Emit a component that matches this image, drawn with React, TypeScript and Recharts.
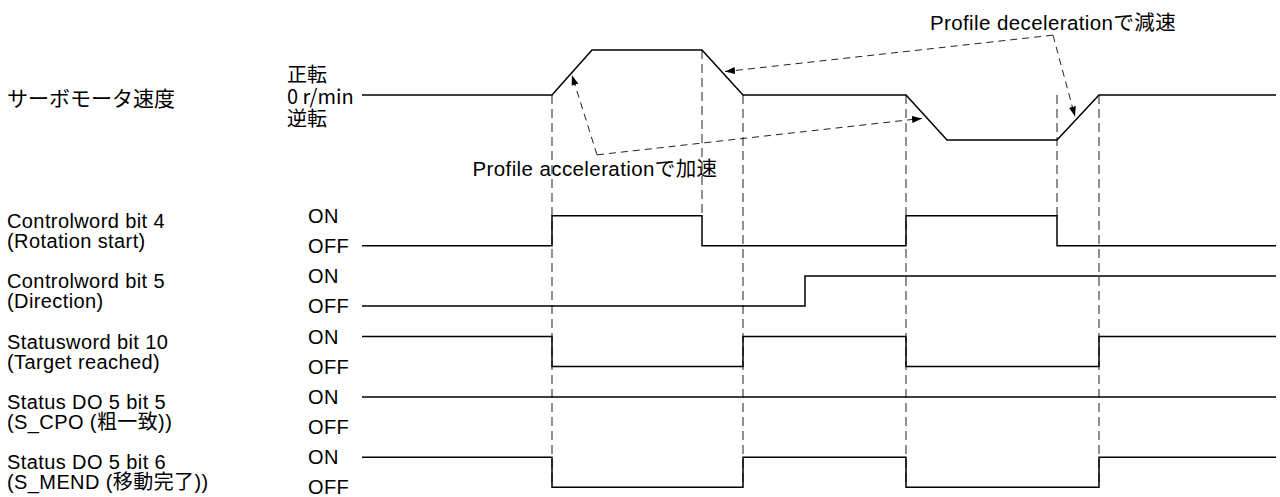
import { ComposedChart, Line, XAxis, YAxis, ReferenceLine } from 'recharts';

// time axis is arbitrary units (0 = left edge of the traces)
const T_END = 91.4;

// servo motor speed (1 = forward max, -1 = reverse max)
const speedT = [0, 19, 23, 34, 38.1, 54.4, 58.5, 69.5, 73.7, T_END];
const speedV = [0, 0, 1, 1, 0, 0, -1, -1, 0, 0];

// digital signals, value switches at each time (step after)
const cw4T = [0, 19, 34, 54.4, 69.5, T_END];
const cw4V = [0, 1, 0, 1, 0, 0];
const cw5T = [0, 44.3, T_END];
const cw5V = [0, 1, 1];
const sw10T = [0, 19, 38.1, 54.4, 73.7, T_END];
const sw10V = [1, 0, 1, 0, 1, 1];
const cpoT = [0, T_END];
const cpoV = [1, 1];
const mendT = [0, 19, 38.1, 54.4, 73.7, T_END];
const mendV = [1, 0, 1, 0, 1, 1];

const signalNames = [
  ['Controlword bit 4', '(Rotation start)'],
  ['Controlword bit 5', '(Direction)'],
  ['Statusword bit 10', '(Target reached)'],
  ['Status DO 5 bit 5', '(S_CPO (粗一致))'],
  ['Status DO 5 bit 6', '(S_MEND (移動完了))'],
];
const speedLabels = ['正転', '0 r/min', '逆転'];

// dashed guide lines: time, speed level at top, lane + level at bottom
const guideT = [19, 34, 38.1, 54.4, 69.5, 73.7];
const guideTopSpeed = [0, 1, 0, 0, 0, 0];
const guideLane = [4, 0, 4, 4, 0, 4];
const guideLevel = [0, 1, 0, 0, 1, 0];

// annotation leaders: [time, speed level]
const accCorner = [23.5, -1.33];
const accTips = [[21.0, 0.44], [56.0, -0.52]];
const decCorner = [69.1, 1.33];
const decTips = [[36.3, 0.52], [71.3, -0.48]];

// layout (y axis runs in pixels, top = 0)
const W = 1280;
const H = 497;
const SPEED_BASE = 95;
const SPEED_AMP = 45;
const LANE_OFF = [245.7, 306.1, 366.6, 427, 487.3];
const LANE_AMP = 30;

const speedY = (v: number) => SPEED_BASE - v * SPEED_AMP;
const laneY = (i: number, v: number) => LANE_OFF[i] - v * LANE_AMP;

const toRows = (ts: number[], vs: number[], f: (v: number) => number) =>
  ts.map((t, i) => ({ t, y: f(vs[i]) }));

const speedData = toRows(speedT, speedV, speedY);
const laneData = [
  [cw4T, cw4V],
  [cw5T, cw5V],
  [sw10T, sw10V],
  [cpoT, cpoV],
  [mendT, mendV],
].map(([ts, vs], i) => toRows(ts, vs, (v) => laneY(i, v)));

const leader = (corner: number[], tip: number[]) => [
  { t: corner[0], y: speedY(corner[1]) },
  { t: tip[0], y: speedY(tip[1]) },
];
const leaders = [
  ...accTips.map((tip) => leader(accCorner, tip)),
  ...decTips.map((tip) => leader(decCorner, tip)),
];

const LAT = "'Liberation Sans', Arial, 'Noto Sans CJK JP', sans-serif";
const JP = "'Noto Sans CJK JP', 'Noto Sans CJK SC', sans-serif";

export default function App() {
  return (
    <div style={{ position: 'absolute', left: 0, top: 0, width: W, height: H, background: '#fff' }}>
      <svg width={0} height={0} style={{ position: 'absolute' }}>
        <defs>
          <marker
            id="arrowHead"
            viewBox="0 0 10 7"
            refX={10}
            refY={3.5}
            markerWidth={10}
            markerHeight={7}
            markerUnits="userSpaceOnUse"
            orient="auto"
          >
            <path d="M0,0 L10,3.5 L0,7 z" fill="#000" />
          </marker>
        </defs>
      </svg>
      <ComposedChart width={W} height={H} margin={{ top: 0, right: 4, bottom: 0, left: 362 }}>
        <XAxis type="number" dataKey="t" domain={[0, T_END]} allowDataOverflow hide />
        <YAxis type="number" domain={[0, H]} reversed allowDataOverflow hide />

        {guideT.map((t, i) => (
          <ReferenceLine
            key={`g-${i}`}
            segment={[
              { x: t, y: speedY(guideTopSpeed[i]) },
              { x: t, y: laneY(guideLane[i], guideLevel[i]) },
            ]}
            stroke="#555"
            strokeWidth={1.3}
            strokeDasharray="9 5"
          />
        ))}

        <Line
          data={speedData}
          dataKey="y"
          type="linear"
          stroke="#000"
          strokeWidth={1.5}
          dot={false}
          activeDot={false}
          isAnimationActive={false}
        />
        {laneData.map((d, i) => (
          <Line
            key={`lane-${i}`}
            data={d}
            dataKey="y"
            type="stepAfter"
            stroke="#000"
            strokeWidth={1.5}
            dot={false}
            activeDot={false}
            isAnimationActive={false}
          />
        ))}
        {leaders.map((d, i) => (
          <Line
            key={`lead-${i}`}
            data={d}
            dataKey="y"
            type="linear"
            stroke="#222"
            strokeWidth={1}
            strokeDasharray="7 5"
            markerEnd="url(#arrowHead)"
            dot={false}
            activeDot={false}
            isAnimationActive={false}
          />
        ))}

        <text x={7} y={97} dominantBaseline="central" fontFamily={JP} fontSize={21} fill="#000">
          サーボモータ速度
        </text>
        {/* stacked speed labels in one text block */}
        <text x={287} y={73} dominantBaseline="central" fontFamily={JP} fontSize={20} fill="#000">
          {speedLabels.map((s, i) => (
            <tspan key={s} x={287} dy={i === 0 ? 0 : 22}>
              {s}
            </tspan>
          ))}
        </text>
        {signalNames.map((lines, i) => {
          const mid = LANE_OFF[i] - LANE_AMP / 2;
          return (
            <g key={`lbl-${i}`} fontFamily={LAT} fontSize={20} letterSpacing={0.4} fill="#000">
              <text x={7} y={mid - 10} dominantBaseline="central">{lines[0]}</text>
              <text x={7} y={mid + 10} dominantBaseline="central">{lines[1]}</text>
              <text x={308} y={laneY(i, 1)} dominantBaseline="central">ON</text>
              <text x={308} y={laneY(i, 0)} dominantBaseline="central">OFF</text>
            </g>
          );
        })}
        <text x={595} y={168} textAnchor="middle" dominantBaseline="central" fontFamily={LAT} fontSize={20.5} letterSpacing={0.4} fill="#000">
          Profile accelerationで加速
        </text>
        <text x={1053} y={22} textAnchor="middle" dominantBaseline="central" fontFamily={LAT} fontSize={20.5} letterSpacing={0.4} fill="#000">
          Profile decelerationで減速
        </text>
      </ComposedChart>
    </div>
  );
}
